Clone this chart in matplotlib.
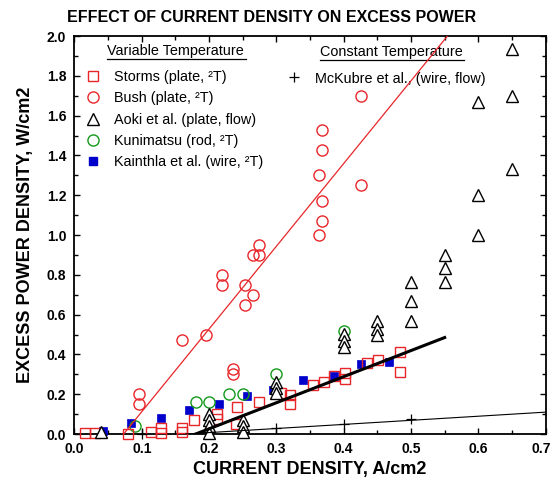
import matplotlib
matplotlib.use("Agg")
import matplotlib.pyplot as plt
from matplotlib.ticker import MultipleLocator, FormatStrFormatter
import matplotlib.transforms as mtransforms

plt.rcParams['font.family'] = ['Liberation Sans', 'DejaVu Sans']

# ---- data ----
storms_x = [0.015, 0.03, 0.08, 0.113, 0.128, 0.128, 0.16, 0.16, 0.178, 0.212, 0.212,
            0.24, 0.242, 0.274, 0.307, 0.32, 0.32, 0.354, 0.37, 0.386, 0.402, 0.402,
            0.435, 0.451, 0.483, 0.483]
storms_y = [0.007, 0.007, 0.0, 0.012, 0.028, 0.007, 0.028, 0.012, 0.072, 0.10, 0.074,
            0.052, 0.137, 0.16, 0.205, 0.195, 0.15, 0.246, 0.263, 0.29, 0.305, 0.278,
            0.355, 0.373, 0.41, 0.313]

bush_x = [0.096, 0.096, 0.160, 0.196, 0.219, 0.219, 0.235, 0.235, 0.253, 0.253, 0.265,
          0.265, 0.274, 0.274, 0.363, 0.364, 0.368, 0.368, 0.368, 0.368, 0.425, 0.425]
bush_y = [0.20, 0.15, 0.475, 0.50, 0.80, 0.75, 0.325, 0.30, 0.75, 0.65, 0.90,
          0.70, 0.95, 0.90, 1.30, 1.00, 1.07, 1.17, 1.43, 1.53, 1.70, 1.25]

aoki_x = [0.04, 0.20, 0.20, 0.20, 0.20, 0.25, 0.25, 0.25, 0.30, 0.30, 0.30,
          0.40, 0.40, 0.40, 0.45, 0.45, 0.45, 0.50, 0.50, 0.50, 0.55, 0.55, 0.55,
          0.60, 0.60, 0.60, 0.65, 0.65, 0.65]
aoki_y = [0.01, 0.10, 0.07, 0.04, 0.005, 0.07, 0.04, 0.01, 0.26, 0.23, 0.205,
          0.505, 0.47, 0.435, 0.57, 0.53, 0.50, 0.765, 0.67, 0.57, 0.90, 0.835, 0.765,
          1.67, 1.20, 1.0, 1.935, 1.70, 1.33]

kuni_x = [0.09, 0.18, 0.20, 0.23, 0.25, 0.30, 0.40]
kuni_y = [0.04, 0.16, 0.16, 0.20, 0.20, 0.30, 0.52]

kain_x = [0.043, 0.084, 0.128, 0.17, 0.214, 0.257, 0.295, 0.34, 0.385, 0.426, 0.468]
kain_y = [0.017, 0.054, 0.078, 0.12, 0.15, 0.19, 0.22, 0.27, 0.29, 0.35, 0.363]

mck_x = [0.10, 0.30, 0.40, 0.50]
mck_y = [0.0, 0.028, 0.049, 0.074]

# fitted lines (end points)
bush_fit_x = [0.073, 0.554]
bush_fit_y = [0.0, 2.0]
storms_fit_x = [0.18, 0.55]
storms_fit_y = [0.0, 0.485]
mck_fit_x = [0.165, 0.70]
mck_fit_y = [0.0, 0.11]

xticks = [0.0, 0.1, 0.2, 0.3, 0.4, 0.5, 0.6, 0.7]
yticks = [0.0, 0.2, 0.4, 0.6, 0.8, 1.0, 1.2, 1.4, 1.6, 1.8, 2.0]

RED = '#e8262a'
BLUE = '#0000cc'
GREEN = '#139a1a'

MS_SQ = 7.8
MS_CI = 8.0
MS_TR = 9.0
MS_BL = 6.3

fig = plt.figure(figsize=(5.53, 4.80), dpi=100)
ax = fig.add_axes([0.1347, 0.0958, 0.852, 0.829])

ax.plot(kain_x, kain_y, 's', ms=MS_BL, mfc=BLUE, mec=BLUE, mew=0.5, clip_on=False, zorder=3)
ax.plot(kuni_x, kuni_y, 'o', ms=MS_CI, mfc='none', mec=GREEN, mew=1.0, clip_on=False, zorder=3)
ax.plot(storms_x, storms_y, 's', ms=MS_SQ, mfc='none', mec=RED, mew=1.0, clip_on=False, zorder=4)
ax.plot(bush_x, bush_y, 'o', ms=MS_CI, mfc='none', mec=RED, mew=1.0, clip_on=False, zorder=4)
ax.plot(aoki_x, aoki_y, '^', ms=MS_TR, mfc='white', mec='black', mew=1.0, clip_on=False, zorder=5)
ax.plot(mck_x, mck_y, '+', ms=7, mec='black', mew=0.9, clip_on=False, zorder=5)

ax.plot(bush_fit_x, bush_fit_y, '-', color=RED, lw=0.9, zorder=6)
ax.plot(storms_fit_x, storms_fit_y, '-', color='black', lw=2.2, zorder=6)
ax.plot(mck_fit_x, mck_fit_y, '-', color='black', lw=0.8, zorder=6)

ax.set_xlim(0, 0.7)
ax.set_ylim(0, 2.0)
ax.set_xticks(xticks)
ax.set_yticks(yticks)
ax.xaxis.set_minor_locator(MultipleLocator(0.05))
ax.yaxis.set_minor_locator(MultipleLocator(0.1))
ax.xaxis.set_major_formatter(FormatStrFormatter('%.1f'))
ax.yaxis.set_major_formatter(FormatStrFormatter('%.1f'))
ax.tick_params(which='both', direction='in', top=True, right=True, width=1.0)
ax.tick_params(which='major', length=4, labelsize=10, pad=6)
ax.tick_params(which='minor', length=3)
for lab in ax.get_xticklabels() + ax.get_yticklabels():
    lab.set_fontweight('bold')
for sp in ax.spines.values():
    sp.set_linewidth(1.3)

fig.canvas.draw()
last = ax.get_xticklabels()[-1]
last.set_transform(last.get_transform() +
                   mtransforms.ScaledTranslation(-4 / 100, 0, fig.dpi_scale_trans))

ax.set_xlabel('CURRENT DENSITY, A/cm2', fontsize=13, fontweight='bold', labelpad=3)
ax.set_ylabel('EXCESS POWER DENSITY, W/cm2', fontsize=13, fontweight='bold', labelpad=9)
fig.text(272 / 553, 1 - 17 / 480, 'EFFECT OF CURRENT DENSITY ON EXCESS POWER',
         ha='center', va='center', fontsize=11.5, fontweight='bold')

# ---- hand-made legend (pixel positions converted to axes fraction) ----
def px(xp, yp):
    return ((xp - 74.5) / 471.5, (434 - yp) / 398)

fs = 10.4
ax.text(*px(107, 51), 'Variable Temperature', transform=ax.transAxes,
        fontsize=fs, va='center', ha='left')
ax.plot([px(107, 58.5)[0], px(246, 58.5)[0]], [px(107, 58.5)[1]] * 2,
        color='black', lw=0.9, transform=ax.transAxes, clip_on=False)
ax.text(*px(320, 52), 'Constant Temperature', transform=ax.transAxes,
        fontsize=fs, va='center', ha='left')
ax.plot([px(320, 60)[0], px(464, 60)[0]], [px(320, 60)[1]] * 2,
        color='black', lw=0.9, transform=ax.transAxes, clip_on=False)

entries = [
    ('s', MS_SQ, 'none', RED, 'Storms (plate, ²T)', 76),
    ('o', MS_CI, 'none', RED, 'Bush (plate, ²T)', 97),
    ('^', MS_TR, 'none', 'black', 'Aoki et al. (plate, flow)', 118.5),
    ('o', MS_CI, 'none', GREEN, 'Kunimatsu (rod, ²T)', 139.5),
    ('s', MS_BL, BLUE, BLUE, 'Kainthla et al. (wire, ²T)', 161),
]
for m, ms, fc, ec, label, yp in entries:
    ax.plot([px(93.5, yp)[0]], [px(93.5, yp)[1]], m, ms=ms, mfc=fc, mec=ec, mew=1.0,
            transform=ax.transAxes, clip_on=False)
    ax.text(*px(114, yp + 1), label, transform=ax.transAxes, fontsize=fs,
            va='center', ha='left')

ax.plot([px(294, 76.5)[0]], [px(294, 76.5)[1]], '+', ms=7, mec='black', mew=0.9,
        transform=ax.transAxes, clip_on=False)
ax.text(*px(315.5, 79), 'McKubre et al., (wire, flow)', transform=ax.transAxes,
        fontsize=fs, va='center', ha='left', zorder=1)

fig.savefig('out.png', dpi=100)
